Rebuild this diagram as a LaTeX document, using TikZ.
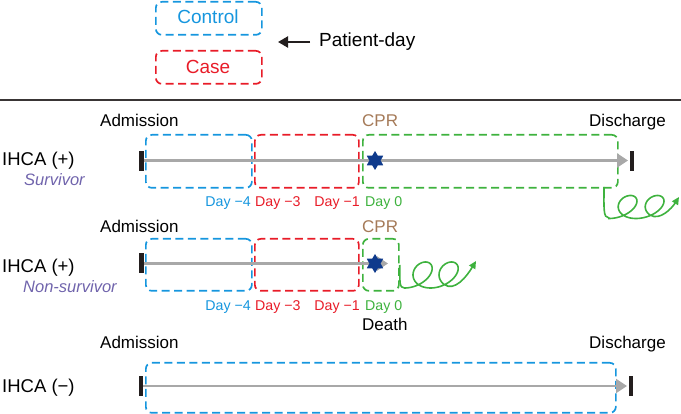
\documentclass[tikz,border=0pt]{standalone}
\usepackage{fontspec}
\setmainfont{Liberation Sans}
\usetikzlibrary{arrows.meta,shapes.geometric}
\definecolor{cblue}{RGB}{22,150,222}
\definecolor{cred}{RGB}{232,28,40}
\definecolor{cgreen}{RGB}{62,178,62}
\definecolor{cbrown}{RGB}{165,122,88}
\definecolor{cpurple}{RGB}{112,100,172}
\definecolor{cnavy}{RGB}{14,58,140}
\definecolor{cgray}{RGB}{168,168,168}
\definecolor{cdark}{RGB}{35,30,30}
\tikzset{
  dbox/.style={draw, dashed, dash pattern=on 8pt off 4.5pt, line width=1.7pt, rounded corners=6pt, inner sep=0pt, anchor=north west},
  bar/.style={fill=cdark, draw=none, inner sep=0pt, minimum width=4.5pt, minimum height=20pt},
  tline/.style={draw=cgray, line width=2.2pt, -{Triangle[length=11pt,width=14pt]}},
  curl/.style={draw=cgreen, line width=1.6pt, -{Triangle[length=7.5pt,width=7pt]}},
  cpr/.style={star, star points=6, star point ratio=1.7, minimum size=19pt, inner sep=0pt, fill=cnavy, draw=none},
  lab/.style={inner sep=0pt, anchor=base west, font=\fontsize{17}{20}\selectfont},
  big/.style={inner sep=0pt, anchor=base west, font=\fontsize{18.5}{22}\selectfont},
  top/.style={inner sep=0pt, anchor=base, font=\fontsize{19}{22}\selectfont},
  day/.style={inner sep=0pt, font=\fontsize{14.2}{16}\selectfont},
  sub/.style={inner sep=0pt, anchor=base west, font=\fontsize{16.5}{19}\selectfont\itshape, text=cpurple}
}
\begin{document}
\begin{tikzpicture}[x=1pt,y=-1pt]
\useasboundingbox (0,0) rectangle (681,414);
% legend
\node[dbox, draw=cblue, minimum width=106pt, minimum height=33pt] (ctl) at (155,1) {};
\node[top, text=cblue] (ctltxt) at (208,24) {Control};
\node[dbox, draw=cred, minimum width=106pt, minimum height=33pt] (cas) at (155,50) {};
\node[top, text=cred] (castxt) at (208,74) {Case};
\node[inner sep=0pt, anchor=base west, font=\fontsize{19}{22}\selectfont] (pd) at (319,47) {Patient-day};
\coordinate (pdtip) at (278,42);
\draw[line width=2.2pt, draw=cdark, -{Triangle[length=10pt,width=11pt]}] (310,42) -- (pdtip);
% separator
\coordinate (sepL) at (0,100);
\coordinate (sepR) at (681,100);
\draw[line width=2pt, draw=cdark!90] (sepL) -- (sepR);

% ---------- Row 1: survivor ----------
\node[big] (r1) at (2,166) {IHCA (+)};
\node[sub] (r1s) at (24,186) {Survivor};
\node[lab] (adm1) at (100,127) {Admission};
\node[lab] (dis1) at (589,127) {Discharge};
\node[lab, text=cbrown] (cpr1) at (362,127) {CPR};
\node[dbox, draw=cblue, minimum width=106pt, minimum height=53pt] (b1) at (145,134) {};
\node[dbox, draw=cred, minimum width=104pt, minimum height=53pt] (c1) at (254,134) {};
\node[dbox, draw=cgreen, minimum width=255pt, minimum height=53pt] (g1) at (362,134) {};
\node[bar] (L1) at (141.5,161) {};
\node[bar] (R1) at (632,161) {};
\coordinate (T1) at (628,160.5);
\draw[tline] (L1.east |- 0,160.5) -- (T1);
\node[cpr] (s1) at (375,160.5) {};
\node[day, anchor=base east, text=cblue] (d1a) at (251,207) {Day −4};
\node[day, anchor=base west, text=cred] (d1b) at (255,207) {Day −3};
\node[day, anchor=base east, text=cred] (d1c) at (360,207) {Day −1};
\node[day, anchor=base west, text=cgreen] (d1d) at (365,207) {Day 0};
\coordinate (cs1) at (604,187);
\draw[curl] (cs1) .. controls (604,208) and (603,218) .. (609,218)
  -- plot[domain=1.5*pi:5.25*pi, samples=140, smooth] ({592.7+4.3*\x+15*cos(\x r)+4*sin(\x r)},{207-11.5*sin(\x r)})
  .. controls (660,221) and (672,208) .. (679,197);

% ---------- Row 2: non-survivor ----------
\node[big] (r2) at (2,273) {IHCA (+)};
\node[sub] (r2s) at (23,293) {Non-survivor};
\node[lab] (adm2) at (100,233) {Admission};
\node[lab, text=cbrown] (cpr2) at (362,233) {CPR};
\node[dbox, draw=cblue, minimum width=106pt, minimum height=52pt] (b2) at (145,238) {};
\node[dbox, draw=cred, minimum width=104pt, minimum height=52pt] (c2) at (254,238) {};
\node[dbox, draw=cgreen, minimum width=36pt, minimum height=52pt] (g2) at (362,238) {};
\node[bar] (L2) at (141.5,263.5) {};
\coordinate (T2) at (388,263.5);
\draw[tline] (L2.east |- 0,263.5) -- (T2);
\node[cpr] (s2) at (375,263.5) {};
\node[day, anchor=base east, text=cblue] (d2a) at (251,311) {Day −4};
\node[day, anchor=base west, text=cred] (d2b) at (255,311) {Day −3};
\node[day, anchor=base east, text=cred] (d2c) at (360,311) {Day −1};
\node[day, anchor=base west, text=cgreen] (d2d) at (365,311) {Day 0};
\node[lab] (death) at (362,331) {Death};
\coordinate (cs2) at (g2.east |- 0,265);
\draw[curl] (cs2) .. controls (400,282) and (399,288) .. (404.5,288)
  -- plot[domain=1.5*pi:5.25*pi, samples=140, smooth] ({389+4.14*\x+15*cos(\x r)+4*sin(\x r)},{275-13*sin(\x r)})
  .. controls (454.5,292.5) and (467,276) .. (476,261);

% ---------- Row 3: IHCA (-) ----------
\node[big] (r3) at (2,393) {IHCA (−)};
\node[lab] (adm3) at (100,349) {Admission};
\node[lab] (dis3) at (589,349) {Discharge};
\node[dbox, draw=cblue, minimum width=470pt, minimum height=50pt] (b3) at (145,362) {};
\node[bar] (L3) at (141,386.5) {};
\node[bar] (R3) at (631,386.5) {};
\coordinate (T3) at (627,386);
\draw[tline] (L3.east |- 0,386) -- (T3);
\end{tikzpicture}
\end{document}
